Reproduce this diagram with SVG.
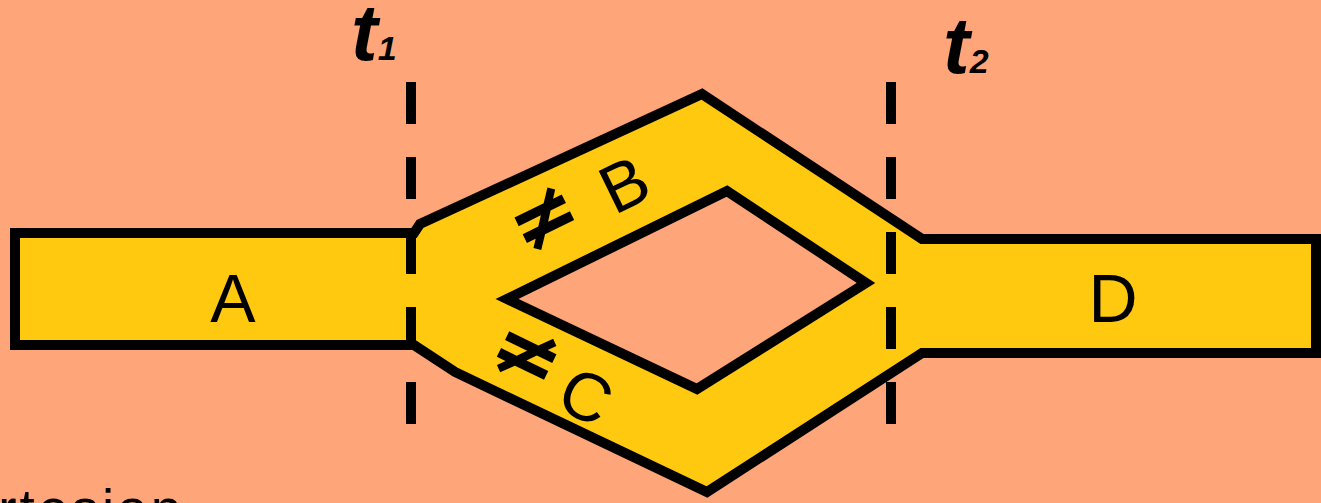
<svg xmlns="http://www.w3.org/2000/svg" width="1321" height="503" viewBox="0 0 1321 503">
<style>
.bg{fill:#FFA57A}
.band{fill:#FFC90F;stroke:#000;stroke-width:10;stroke-linejoin:miter;stroke-miterlimit:10}
.hole{fill:#FFA57A;stroke:#000;stroke-width:10;stroke-linejoin:miter;stroke-miterlimit:10}
.dash{stroke:#000;stroke-width:10;stroke-dasharray:42 33;fill:none}
.lbl{font-family:"Liberation Sans",Arial,sans-serif;font-size:68px;fill:#000}
.ne{font-family:"DejaVu Sans",sans-serif;font-weight:bold;font-size:84px;fill:#000}
.t{font-family:"Liberation Sans",Arial,sans-serif;font-weight:bold;font-style:italic;fill:#000}
</style>
<rect class="bg" x="0" y="0" width="1321" height="503"/>
<g id="network">
<path class="band" d="M15,233 L414,233 L420,224 L702,94 L922,239 L1316,239 L1316,353 L922,353 L707,492 L455,372 L414,345 L15,345 Z"/>
<polygon class="hole" points="507,299 727,191 866,283 697,389"/>
</g>
<g id="connectors">
<line class="dash" x1="411" y1="82" x2="411" y2="425"/>
<line class="dash" x1="891" y1="82" x2="891" y2="425"/>
</g>
<g id="label-t1"><text class="t" x="351" y="60" font-size="80">t<tspan font-size="34">1</tspan></text></g>
<g id="label-t2"><text class="t" x="943" y="73" font-size="80">t<tspan font-size="34">2</tspan></text></g>
<g id="node-A"><text class="lbl" x="233" y="322" text-anchor="middle">A</text></g>
<g id="node-D"><text class="lbl" x="1113" y="322" text-anchor="middle">D</text></g>
<g id="node-B"><text class="lbl" x="624" y="208" text-anchor="middle" transform="rotate(-26 624 184)">B</text></g>
<g id="node-C"><text class="lbl" x="586" y="420" text-anchor="middle" transform="rotate(26 586 396)">C</text></g>
<g id="ne-B"><text class="ne" x="544" y="245" text-anchor="middle" transform="rotate(-26 544 218)">≠</text></g>
<g id="ne-C"><text class="ne" x="527" y="382" text-anchor="middle" transform="rotate(26 527 355)">≠</text></g>
<g id="caption"><text font-family="Liberation Sans,Arial,sans-serif" font-size="55" letter-spacing="3" fill="#000" x="-78" y="528">Cartesian</text></g>
</svg>
